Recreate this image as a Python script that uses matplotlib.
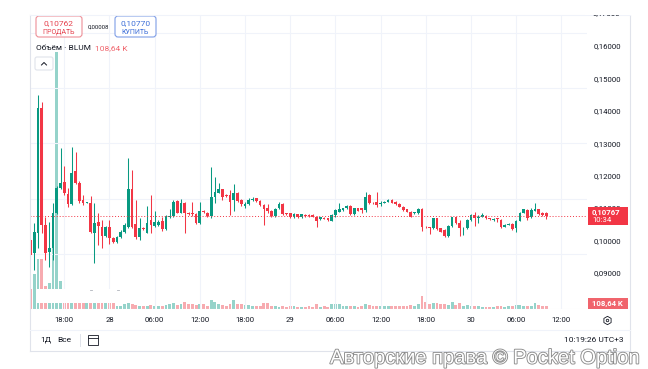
import matplotlib
matplotlib.use("Agg")
import matplotlib.pyplot as plt
import matplotlib.dates as mdates
import matplotlib.patheffects as pe
from matplotlib.patches import Rectangle, FancyBboxPatch
from matplotlib.ticker import FuncFormatter, FixedLocator
import pandas as pd

plt.rcParams['font.family'] = ['Roboto', 'DejaVu Sans']

# 30-minute candles, BLUM
times = pd.date_range('2025-06-27 13:30', periods=138, freq='30min')

opens = [0.1001, 0.0960, 0.1024, 0.1408, 0.1048, 0.0965, 0.0976, 0.1084, 0.1163, 0.1181,
         0.1143, 0.1112, 0.1214, 0.1178, 0.1125, 0.1116, 0.1116, 0.1024, 0.1058, 0.1042,
         0.1014, 0.1042, 0.1006, 0.0996, 0.1011, 0.1027, 0.1040, 0.1158, 0.1052, 0.1011,
         0.1037, 0.1024, 0.1063, 0.1044, 0.1048, 0.1060, 0.1034, 0.1071, 0.1075, 0.1122,
         0.1086, 0.1116, 0.1086, 0.1084, 0.1081, 0.1053, 0.1091, 0.1086, 0.1075, 0.1133,
         0.1147, 0.1158, 0.1140, 0.1140, 0.1125, 0.1147, 0.1125, 0.1106, 0.1111, 0.1125,
         0.1130, 0.1123, 0.1109, 0.1099, 0.1092, 0.1075, 0.1099, 0.1112, 0.1084, 0.1084,
         0.1071, 0.1081, 0.1071, 0.1079, 0.1078, 0.1078, 0.1073, 0.1065, 0.1070, 0.1068,
         0.1061, 0.1079, 0.1089, 0.1094, 0.1099, 0.1106, 0.1081, 0.1099, 0.1099, 0.1094,
         0.1140, 0.1116, 0.1120, 0.1112, 0.1116, 0.1119, 0.1125, 0.1119, 0.1112, 0.1104,
         0.1096, 0.1089, 0.1084, 0.1084, 0.1097, 0.1042, 0.1040, 0.1037, 0.1068, 0.1037,
         0.1032, 0.1014, 0.1044, 0.1071, 0.1053, 0.1037, 0.1037, 0.1063, 0.1078, 0.1068,
         0.1073, 0.1075, 0.1068, 0.1063, 0.1068, 0.1063, 0.1042, 0.1048, 0.1051, 0.1037,
         0.1061, 0.1086, 0.1094, 0.1071, 0.1092, 0.1096, 0.1086, 0.1086]
highs = [0.1008, 0.1053, 0.1449, 0.1428, 0.1073, 0.1058, 0.1116, 0.1168, 0.1284, 0.1230,
         0.1161, 0.1287, 0.1274, 0.1183, 0.1140, 0.1118, 0.1137, 0.1116, 0.1084, 0.1063,
         0.1045, 0.1063, 0.1010, 0.1014, 0.1032, 0.1055, 0.1253, 0.1217, 0.1125, 0.1068,
         0.1040, 0.1106, 0.1140, 0.1092, 0.1062, 0.1072, 0.1078, 0.1096, 0.1124, 0.1125,
         0.1127, 0.1120, 0.1088, 0.1120, 0.1084, 0.1120, 0.1094, 0.1088, 0.1226, 0.1195,
         0.1178, 0.1160, 0.1142, 0.1156, 0.1174, 0.1150, 0.1127, 0.1120, 0.1130, 0.1133,
         0.1132, 0.1126, 0.1112, 0.1112, 0.1094, 0.1099, 0.1119, 0.1114, 0.1086, 0.1086,
         0.1084, 0.1083, 0.1083, 0.1081, 0.1080, 0.1080, 0.1075, 0.1073, 0.1072, 0.1070,
         0.1081, 0.1096, 0.1116, 0.1101, 0.1108, 0.1108, 0.1101, 0.1101, 0.1101, 0.1150,
         0.1143, 0.1118, 0.1150, 0.1122, 0.1122, 0.1127, 0.1127, 0.1121, 0.1114, 0.1106,
         0.1098, 0.1091, 0.1088, 0.1099, 0.1099, 0.1044, 0.1042, 0.1070, 0.1070, 0.1039,
         0.1034, 0.1046, 0.1073, 0.1073, 0.1063, 0.1041, 0.1065, 0.1080, 0.1089, 0.1078,
         0.1086, 0.1077, 0.1070, 0.1069, 0.1070, 0.1065, 0.1050, 0.1053, 0.1053, 0.1063,
         0.1088, 0.1098, 0.1096, 0.1099, 0.1116, 0.1098, 0.1088, 0.1088]
lows = [0.0952, 0.0909, 0.0975, 0.1023, 0.0940, 0.0919, 0.0940, 0.1080, 0.1158, 0.1140,
        0.1104, 0.1108, 0.1175, 0.1114, 0.1109, 0.1114, 0.1022, 0.0929, 0.0986, 0.0976,
        0.1010, 0.0990, 0.0993, 0.0992, 0.1008, 0.1024, 0.1037, 0.1037, 0.1003, 0.1001,
        0.1032, 0.1022, 0.1022, 0.1040, 0.1045, 0.1030, 0.1032, 0.1068, 0.1073, 0.1084,
        0.1084, 0.1024, 0.1079, 0.1075, 0.1050, 0.1050, 0.1085, 0.1071, 0.1068, 0.1114,
        0.1145, 0.1125, 0.1135, 0.1078, 0.1092, 0.1120, 0.1106, 0.1099, 0.1108, 0.1123,
        0.1120, 0.1106, 0.1048, 0.1084, 0.1071, 0.1073, 0.1096, 0.1078, 0.1078, 0.1068,
        0.1069, 0.1069, 0.1069, 0.1073, 0.1073, 0.1071, 0.1042, 0.1063, 0.1065, 0.1061,
        0.1059, 0.1073, 0.1087, 0.1092, 0.1097, 0.1079, 0.1079, 0.1090, 0.1084, 0.1089,
        0.1112, 0.1112, 0.1104, 0.1106, 0.1114, 0.1117, 0.1114, 0.1110, 0.1102, 0.1092,
        0.1087, 0.1071, 0.1082, 0.1082, 0.1030, 0.1038, 0.1020, 0.1035, 0.1032, 0.1025,
        0.1012, 0.1012, 0.1042, 0.1051, 0.1014, 0.1017, 0.1035, 0.1061, 0.1044, 0.1053,
        0.1071, 0.1066, 0.1063, 0.1061, 0.1058, 0.1037, 0.1040, 0.1046, 0.1032, 0.1027,
        0.1059, 0.1084, 0.1063, 0.1068, 0.1090, 0.1079, 0.1076, 0.1065]
closes = [0.0955, 0.1027, 0.1408, 0.1048, 0.0962, 0.0976, 0.1086, 0.1163, 0.1178, 0.1145,
          0.1112, 0.1209, 0.1178, 0.1123, 0.1116, 0.1117, 0.1027, 0.1053, 0.1044, 0.1014,
          0.1042, 0.1006, 0.0996, 0.1011, 0.1027, 0.1048, 0.1158, 0.1040, 0.1010, 0.1037,
          0.1034, 0.1055, 0.1048, 0.1058, 0.1058, 0.1034, 0.1075, 0.1075, 0.1120, 0.1086,
          0.1116, 0.1084, 0.1081, 0.1081, 0.1053, 0.1091, 0.1087, 0.1075, 0.1133, 0.1150,
          0.1158, 0.1135, 0.1137, 0.1120, 0.1147, 0.1123, 0.1111, 0.1111, 0.1125, 0.1127,
          0.1123, 0.1109, 0.1096, 0.1092, 0.1075, 0.1096, 0.1112, 0.1081, 0.1081, 0.1071,
          0.1081, 0.1071, 0.1081, 0.1075, 0.1075, 0.1073, 0.1061, 0.1071, 0.1067, 0.1063,
          0.1079, 0.1094, 0.1096, 0.1099, 0.1106, 0.1081, 0.1099, 0.1092, 0.1094, 0.1135,
          0.1116, 0.1114, 0.1109, 0.1114, 0.1120, 0.1125, 0.1116, 0.1112, 0.1104, 0.1094,
          0.1089, 0.1073, 0.1086, 0.1097, 0.1040, 0.1040, 0.1039, 0.1068, 0.1034, 0.1027,
          0.1014, 0.1044, 0.1071, 0.1053, 0.1037, 0.1039, 0.1063, 0.1078, 0.1068, 0.1073,
          0.1078, 0.1068, 0.1065, 0.1067, 0.1065, 0.1040, 0.1048, 0.1051, 0.1034, 0.1061,
          0.1086, 0.1096, 0.1068, 0.1094, 0.1096, 0.1081, 0.1078, 0.10767]
# volume, thousands
volumes = [720, 1260, 1800, 1800, 830, 940, 2800, 9300, 1000, 650,
           420, 380, 350, 330, 300, 280, 360, 320, 260, 250,
           230, 240, 220, 120, 120, 180, 215, 180, 155, 120,
           120, 120, 155, 100, 100, 120, 155, 180, 205, 155,
           180, 265, 180, 180, 155, 180, 180, 120, 335, 240,
           180, 155, 120, 180, 335, 180, 180, 155, 155, 120,
           100, 120, 215, 215, 100, 100, 60, 100, 60, 100,
           100, 72, 85, 72, 100, 85, 180, 85, 100, 85,
           180, 180, 180, 120, 110, 100, 120, 85, 100, 180,
           155, 120, 120, 110, 120, 100, 110, 100, 110, 120,
           110, 145, 110, 180, 460, 240, 180, 215, 215, 180,
           180, 145, 240, 145, 215, 120, 155, 110, 100, 110,
           85, 72, 85, 72, 100, 110, 85, 100, 120, 155,
           155, 120, 100, 120, 215, 145, 120, 108.64]

price_ticks = [0.09, 0.10, 0.11, 0.12, 0.13, 0.14, 0.15, 0.16]
last_price = 0.10767

GREEN, RED = '#089981', '#f23645'
VGREEN, VRED = '#95d3ca', '#f7abb0'
TXT = '#131722'
LINE = '#e0e3eb'

W, H = 648, 369
fig = plt.figure(figsize=(6.48, 3.69), dpi=100)


def box(x0, y0, x1, y1):
    return [x0 / W, 1 - y1 / H, (x1 - x0) / W, (y1 - y0) / H]


ax_v = fig.add_axes(box(30, 15, 587, 309), zorder=1)
ax = fig.add_axes(box(30, 15, 587, 309), zorder=2, sharex=ax_v)
ax.patch.set_alpha(0)

x = mdates.date2num(times)
width = 0.36 / 24
up = [c >= o for o, c in zip(opens, closes)]
cols = [GREEN if u else RED for u in up]
vcols = [VGREEN if u else VRED for u in up]

ax_v.bar(x, volumes, width=width * 1.05, color=vcols)
ax_v.set_ylim(0, 294 * 36.2)

ax.vlines(x, lows, highs, colors=cols, lw=0.75)
bottoms = [min(o, c) for o, c in zip(opens, closes)]
heights = [max(abs(c - o), 0.00025) for o, c in zip(opens, closes)]
ax.bar(x, heights, bottom=bottoms, width=width, color=cols)
ax.axhline(last_price, color=RED, lw=0.7, ls=(0, (1, 2)))

t0 = mdates.date2num(pd.Timestamp('2025-06-27 18:00'))
ax.set_xlim(t0 - 4.555 / 24, t0 + 69.41 / 24)
ax.set_ylim(0.078827, 0.169568)

xt = pd.date_range('2025-06-27 18:00', '2025-06-30 12:00', freq='6h')
ax.xaxis.set_major_locator(FixedLocator(mdates.date2num(xt)))
ax.xaxis.set_major_formatter(FuncFormatter(
    lambda v, p: str(mdates.num2date(v).day) if mdates.num2date(v).hour == 0
    else mdates.num2date(v).strftime('%H:%M')))
ax.yaxis.tick_right()
ax.yaxis.set_major_locator(FixedLocator(price_ticks))
ax.yaxis.set_major_formatter(FuncFormatter(lambda v, p: f'{v:.5f}'.replace('.', ',')))
ax.tick_params(axis='x', length=0, pad=5.5, labelsize=5.6, labelcolor=TXT)
ax.tick_params(axis='y', length=0, pad=4.5, labelsize=5.6, labelcolor=TXT)
for lab in ax.get_yticklabels():
    lab.set_horizontalalignment('left')

ax_v.grid(True, color='#f0f3fa', lw=0.8)
ax_v.tick_params(left=False, bottom=False, labelleft=False, labelbottom=False)
for a in (ax, ax_v):
    for s in a.spines.values():
        s.set_visible(False)

# pixel overlay for the widget chrome
ov = fig.add_axes([0, 0, 1, 1], zorder=3)
ov.set_xlim(0, W)
ov.set_ylim(H, 0)
ov.axis('off')

# white strip hiding part of the volume pane
ov.add_patch(Rectangle((36, 289), 84, 14, color='white', lw=0))
ov.plot([90, 92], [290, 290], color='#b0b4bc', lw=0.6)
ov.plot([117, 119], [290, 290], color='#b0b4bc', lw=0.6)

# frame
ov.plot([30, 30], [15, 351], color=LINE, lw=0.8)
ov.plot([630, 630], [15, 351], color=LINE, lw=0.8)
ov.plot([30, 630], [351, 351], color=LINE, lw=0.8)
ov.plot([30, 630], [15, 15], color='#f0f3fa', lw=0.8)
ov.plot([30, 630], [330, 330], color='#f0f3fa', lw=0.8)

# partially hidden top price label
ov.text(593, 13.6, '0,17000', fontsize=5.6, color=TXT, va='center', zorder=2)
ov.add_patch(Rectangle((585, 0), 50, 14.6, color='white', lw=0, zorder=4))

# last price and volume labels
ov.add_patch(Rectangle((588, 207), 40, 18, color=RED, lw=0, zorder=5))
ov.text(592, 212, '0,10767', fontsize=5.6, color='white', va='center',
        fontweight='bold', zorder=6)
ov.text(592, 220.5, '10:34', fontsize=5.6, color='white', va='center', zorder=6)
ov.add_patch(Rectangle((588, 298), 40, 10.5, color='#f0646c', lw=0))
ov.text(592, 303.3, '108,64 K', fontsize=5.6, color='white', va='center', fontweight='bold')

# sell / buy buttons
ov.add_patch(FancyBboxPatch((36, 16), 46, 21, boxstyle='round,pad=0,rounding_size=3',
                            fc='white', ec='#ee8f97', lw=0.8))
ov.text(59, 23, '0,10762', fontsize=6, color='#e5414d', ha='center', va='center')
ov.text(59, 32, 'ПРОДАТЬ', fontsize=5, color='#e5414d', ha='center', va='center')
ov.text(98, 27.5, '0,00008', fontsize=4.3, color=TXT, ha='center', va='center')
ov.add_patch(FancyBboxPatch((115, 16), 41, 21, boxstyle='round,pad=0,rounding_size=3',
                            fc='white', ec='#7f9ee6', lw=0.8))
ov.text(135.5, 23, '0,10770', fontsize=6, color='#3d6fd8', ha='center', va='center')
ov.text(135.5, 32, 'КУПИТЬ', fontsize=5, color='#3d6fd8', ha='center', va='center')

# volume legend
ov.text(36, 48, 'Объём · BLUM', fontsize=6, color=TXT, va='center')
ov.text(95, 48, '108,64 K', fontsize=6, color='#f0646c', va='center')
ov.add_patch(FancyBboxPatch((35, 57), 18, 13, boxstyle='round,pad=0,rounding_size=2',
                            fc='white', ec=LINE, lw=0.8))
ov.plot([41.5, 44, 46.5], [65, 62.5, 65], color=TXT, lw=0.7)

# settings icon
ov.plot(607, 320, marker='h', ms=6, mfc='none', mec=TXT, mew=0.6)
ov.plot(607, 320, marker='o', ms=1.8, mfc='none', mec=TXT, mew=0.6)

# bottom toolbar
ov.text(40, 340, '1Д', fontsize=6, color=TXT, va='center')
ov.text(57, 340, 'Все', fontsize=6, color=TXT, va='center')
ov.plot([80, 80], [334, 346], color=LINE, lw=0.7)
ov.add_patch(Rectangle((88, 335), 10, 10, fc='none', ec=TXT, lw=0.6))
ov.plot([88, 98], [337.5, 337.5], color=TXT, lw=0.6)
ov.text(624, 340, '10:19:26 UTC+3', fontsize=6, color=TXT, ha='right', va='center')

# watermark
ov.text(640, 358, 'Авторские права © Pocket Option', fontsize=14.5, color='white',
        ha='right', va='center', family=['Liberation Sans', 'DejaVu Sans'],
        path_effects=[pe.withStroke(linewidth=1.3, foreground='#8c8c8c')])

fig.savefig('out.png', dpi=100)
